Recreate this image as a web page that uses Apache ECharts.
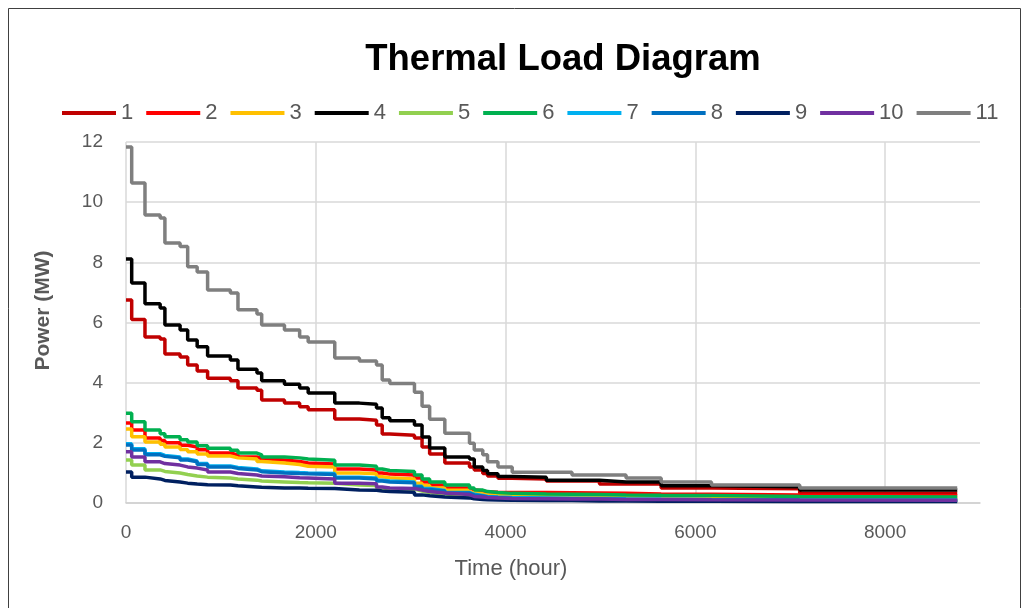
<!DOCTYPE html>
<html>
<head>
<meta charset="utf-8">
<script src="https://cdn.jsdelivr.net/npm/echarts@6/dist/echarts.min.js"></script>
<style>
html,body{margin:0;padding:0;background:#fff;}
#c{width:1029px;height:608px;}
</style>
</head>
<body>
<div id="c"></div>
<script>
// Step breakpoints (hours); each value holds from its hour until the next one
var hours = [0, 60, 200, 360, 410, 570, 650, 750, 860, 1100, 1180, 1380, 1430, 1670, 1830, 1920, 2200, 2460, 2640, 2700, 2780, 3040, 3120, 3200, 3360, 3620, 3670, 3760, 3810, 3920, 4070, 4430, 4700, 4990, 5270, 5640, 6170, 7100, 8760];

var s1  = [6.75,6.1,5.52,5.45,4.95,4.85,4.59,4.39,4.15,4.06,3.82,3.75,3.42,3.32,3.2,3.1,2.79,2.75,2.59,2.29,2.25,2.16,1.86,1.63,1.33,1.2,1.1,0.98,0.9,0.82,0.8,0.73,0.73,0.63,0.63,0.5,0.47,0.32,0.32];
var s2  = [2.66,2.43,2.16,2.08,2.0,1.92,1.86,1.77,1.66,1.6,1.53,1.48,1.43,1.38,1.33,1.3,1.13,1.1,1.0,0.96,0.93,0.83,0.7,0.6,0.5,0.44,0.4,0.37,0.36,0.35,0.35,0.34,0.33,0.32,0.3,0.29,0.27,0.24,0.24];
var s3  = [2.46,2.2,2.03,1.95,1.86,1.78,1.7,1.63,1.56,1.5,1.46,1.38,1.33,1.28,1.22,1.2,1.0,0.97,0.87,0.84,0.8,0.66,0.58,0.5,0.42,0.35,0.3,0.27,0.25,0.23,0.22,0.21,0.2,0.19,0.18,0.17,0.15,0.14,0.14];
var s4  = [8.11,7.31,6.62,6.48,5.92,5.75,5.42,5.19,4.89,4.75,4.45,4.32,4.06,3.95,3.82,3.66,3.32,3.28,3.16,2.83,2.73,2.59,2.19,1.83,1.53,1.46,1.2,1.08,0.97,0.88,0.86,0.76,0.76,0.7,0.7,0.57,0.54,0.43,0.43];
var s5  = [1.43,1.26,1.1,1.05,1.0,0.95,0.9,0.86,0.83,0.8,0.76,0.73,0.7,0.68,0.67,0.66,0.6,0.58,0.5,0.48,0.46,0.4,0.35,0.3,0.25,0.2,0.18,0.16,0.15,0.13,0.12,0.11,0.1,0.1,0.09,0.09,0.08,0.07,0.07];
var s6  = [2.98,2.7,2.43,2.3,2.2,2.1,2.03,1.9,1.82,1.75,1.66,1.6,1.53,1.5,1.46,1.42,1.26,1.22,1.13,1.08,1.05,0.93,0.8,0.7,0.6,0.5,0.43,0.38,0.35,0.32,0.3,0.29,0.28,0.27,0.26,0.25,0.22,0.2,0.2];
var s7  = [1.97,1.8,1.64,1.58,1.53,1.46,1.4,1.31,1.23,1.18,1.13,1.07,1.03,1.01,1.0,0.98,0.86,0.83,0.76,0.73,0.7,0.56,0.48,0.42,0.35,0.29,0.25,0.22,0.2,0.18,0.17,0.16,0.15,0.14,0.13,0.12,0.11,0.1,0.1];
var s8  = [1.93,1.76,1.6,1.55,1.5,1.43,1.37,1.28,1.2,1.15,1.1,1.04,1.0,0.98,0.97,0.95,0.83,0.8,0.73,0.7,0.67,0.53,0.45,0.4,0.33,0.27,0.23,0.2,0.18,0.16,0.15,0.14,0.13,0.12,0.11,0.1,0.09,0.08,0.08];
var s9  = [1.03,0.86,0.8,0.75,0.7,0.66,0.63,0.61,0.6,0.57,0.53,0.52,0.5,0.5,0.49,0.48,0.43,0.42,0.4,0.38,0.36,0.27,0.24,0.2,0.17,0.14,0.12,0.11,0.1,0.09,0.08,0.08,0.07,0.07,0.06,0.06,0.05,0.05,0.05];
var s10 = [1.7,1.53,1.37,1.31,1.26,1.2,1.16,1.1,1.03,0.98,0.93,0.9,0.87,0.84,0.83,0.8,0.66,0.64,0.53,0.5,0.48,0.43,0.38,0.33,0.28,0.22,0.2,0.18,0.17,0.15,0.14,0.13,0.13,0.12,0.12,0.11,0.1,0.09,0.09];
var s11 = [11.83,10.64,9.57,9.47,8.64,8.53,7.85,7.68,7.08,6.98,6.42,6.28,5.92,5.75,5.52,5.35,4.82,4.72,4.59,4.09,3.97,3.68,3.22,2.78,2.32,1.99,1.76,1.6,1.37,1.2,1.02,1.02,0.93,0.93,0.83,0.7,0.6,0.5,0.5];

var seriesNames = ['1','2','3','4','5','6','7','8','9','10','11'];
var seriesValues = [s1,s2,s3,s4,s5,s6,s7,s8,s9,s10,s11];
var colors = ['#C00000','#FF0000','#FFC000','#000000','#92D050','#00B050','#00B0F0','#0070C0','#002060','#7030A0','#7F7F7F'];

var chart = echarts.init(document.getElementById('c'));
var series = seriesNames.map(function(n, i){
  return {
    name: n, type: 'line', step: 'end', symbol: 'none', showSymbol: false,
    lineStyle: {width: 3.5, color: colors[i]},
    itemStyle: {color: colors[i]},
    data: hours.map(function(h, k){ return [h, seriesValues[i][k]]; }),
    z: 2 + i
  };
});

chart.setOption({
  animation: false,
  backgroundColor: '#fff',
  title: {
    text: 'Thermal Load Diagram', left: 558, top: 36, textAlign: 'center',
    textStyle: {fontFamily: 'Liberation Sans', fontWeight: 'bold', fontSize: 36.5, color: '#000'}
  },
  legend: {
    data: seriesNames, left: 57, top: 97, itemWidth: 54, itemHeight: 4, itemGap: 13,
    icon: 'rect',
    textStyle: {fontFamily: 'Liberation Sans', fontSize: 22, color: '#595959'}
  },
  grid: {left: 126, right: 49, top: 142, bottom: 105, containLabel: false},
  xAxis: {
    type: 'value', min: 0, max: 9000, interval: 2000,
    name: 'Time (hour)', nameLocation: 'middle', nameGap: 55,
    nameTextStyle: {fontFamily: 'Liberation Sans', fontSize: 22, color: '#595959', padding: [0, 84, 0, 0]},
    axisLine: {show: true, lineStyle: {color: '#D0D0D0', width: 1.5}},
    axisTick: {show: false},
    axisLabel: {fontFamily: 'Liberation Sans', fontSize: 19, color: '#595959', margin: 20, showMaxLabel: false,
      formatter: function(v){ return String(v); }},
    splitLine: {show: true, showMaxLine: false, lineStyle: {color: '#D9D9D9', width: 1.5}}
  },
  yAxis: {
    type: 'value', min: 0, max: 12, interval: 2,
    name: 'Power (MW)', nameLocation: 'middle', nameGap: 72, nameRotate: 90,
    nameTextStyle: {fontFamily: 'Liberation Sans', fontSize: 21, fontWeight: 'bold', color: '#595959', padding: [0, 0, 0, 24]},
    axisLine: {show: false},
    axisTick: {show: false},
    axisLabel: {fontFamily: 'Liberation Sans', fontSize: 19, color: '#595959', margin: 23},
    splitLine: {show: true, lineStyle: {color: '#D9D9D9', width: 1.5}}
  },
  graphic: [{
    type: 'rect', silent: true, z: -1,
    shape: {x: 8.5, y: 8.5, width: 1012, height: 640},
    style: {fill: 'none', stroke: '#404040', lineWidth: 1}
  }],
  series: series
});
</script>
</body>
</html>
